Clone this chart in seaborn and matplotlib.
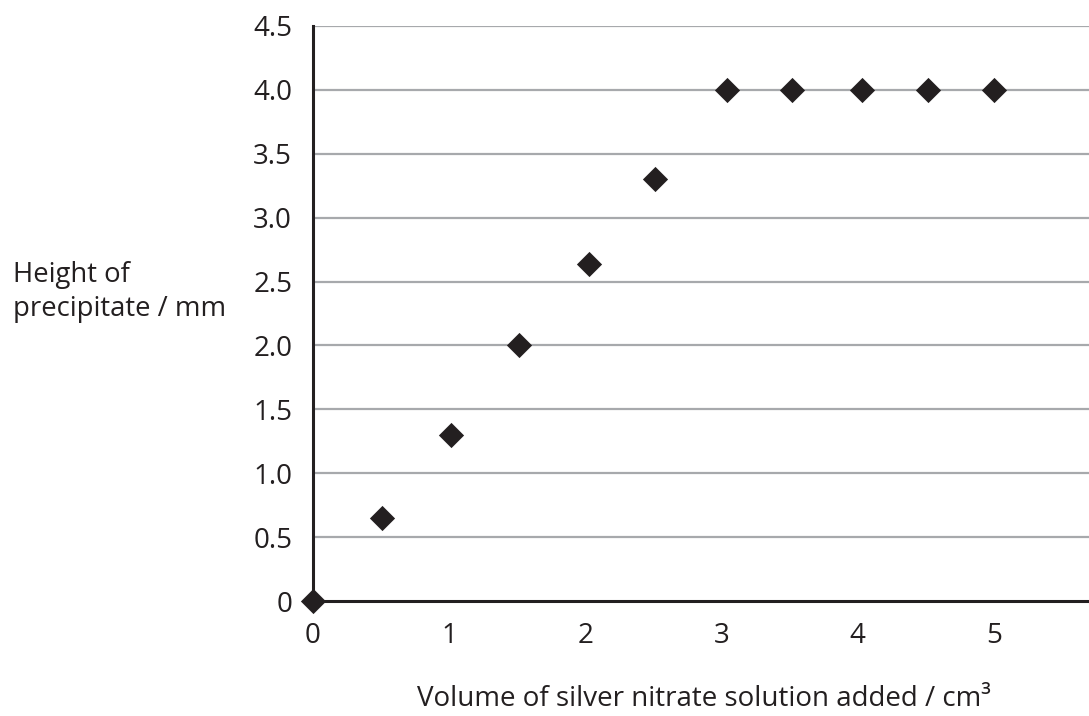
import numpy as np
import pandas as pd
import matplotlib
matplotlib.use("Agg")
import matplotlib.pyplot as plt
import seaborn as sns

# -----------------------------
# Data
# -----------------------------
volume_added = [0.0, 0.51, 1.01, 1.51, 2.03, 2.51, 3.04, 3.52, 4.03, 4.52, 5.0]
precipitate_height = [0.0, 0.65, 1.3, 2.0, 2.64, 3.3, 4.0, 4.0, 4.0, 4.0, 4.0]

x_ticks = [0, 1, 2, 3, 4, 5]
y_ticks = [0, 0.5, 1.0, 1.5, 2.0, 2.5, 3.0, 3.5, 4.0, 4.5]
y_tick_labels = ["0", "0.5", "1.0", "1.5", "2.0", "2.5", "3.0", "3.5", "4.0", "4.5"]

df = pd.DataFrame({"volume": volume_added, "height": precipitate_height})

# -----------------------------
# Style
# -----------------------------
sns.set_style("white")
plt.rcParams["font.family"] = ["Open Sans", "DejaVu Sans"]

ink = "#231f20"
grid_grey = "#a7a9ac"

fig = plt.figure(figsize=(10.89, 7.16), dpi=100)
ax = fig.add_axes([313 / 1089, 115 / 716, 1 - 313 / 1089, 575 / 716])

ax.set_xlim(0, 5.7)
ax.set_ylim(0, 4.5)

# horizontal grid lines
for yv in y_ticks[1:]:
    ax.axhline(yv, color=grid_grey, lw=1.6, zorder=1)

sns.scatterplot(data=df, x="volume", y="height", marker="D", s=165,
                color=ink, linewidth=0, ax=ax, zorder=3, clip_on=False)

ax.set_xticks(x_ticks)
ax.set_xticklabels([str(t) for t in x_ticks])
ax.set_yticks(y_ticks)
ax.set_yticklabels(y_tick_labels)
ax.tick_params(axis="both", direction="out", length=7, width=2,
               color=ink, labelcolor=ink, labelsize=20, pad=8)

for side in ["top", "right"]:
    ax.spines[side].set_visible(False)
for side in ["left", "bottom"]:
    ax.spines[side].set_color(ink)
    ax.spines[side].set_linewidth(2.2)
    ax.spines[side].set_zorder(2)

ax.set_xlabel("")
ax.set_ylabel("")

fig.text(13 / 1089, 1 - 292 / 716, "Height of\nprecipitate / mm", ha="left",
         va="center", fontsize=19.8, color=ink, linespacing=1.3)
fig.text(704 / 1089, 10 / 716, "Volume of silver nitrate solution added / cm³",
         ha="center", va="baseline", fontsize=20, color=ink)

fig.savefig("out.png", dpi=100)
